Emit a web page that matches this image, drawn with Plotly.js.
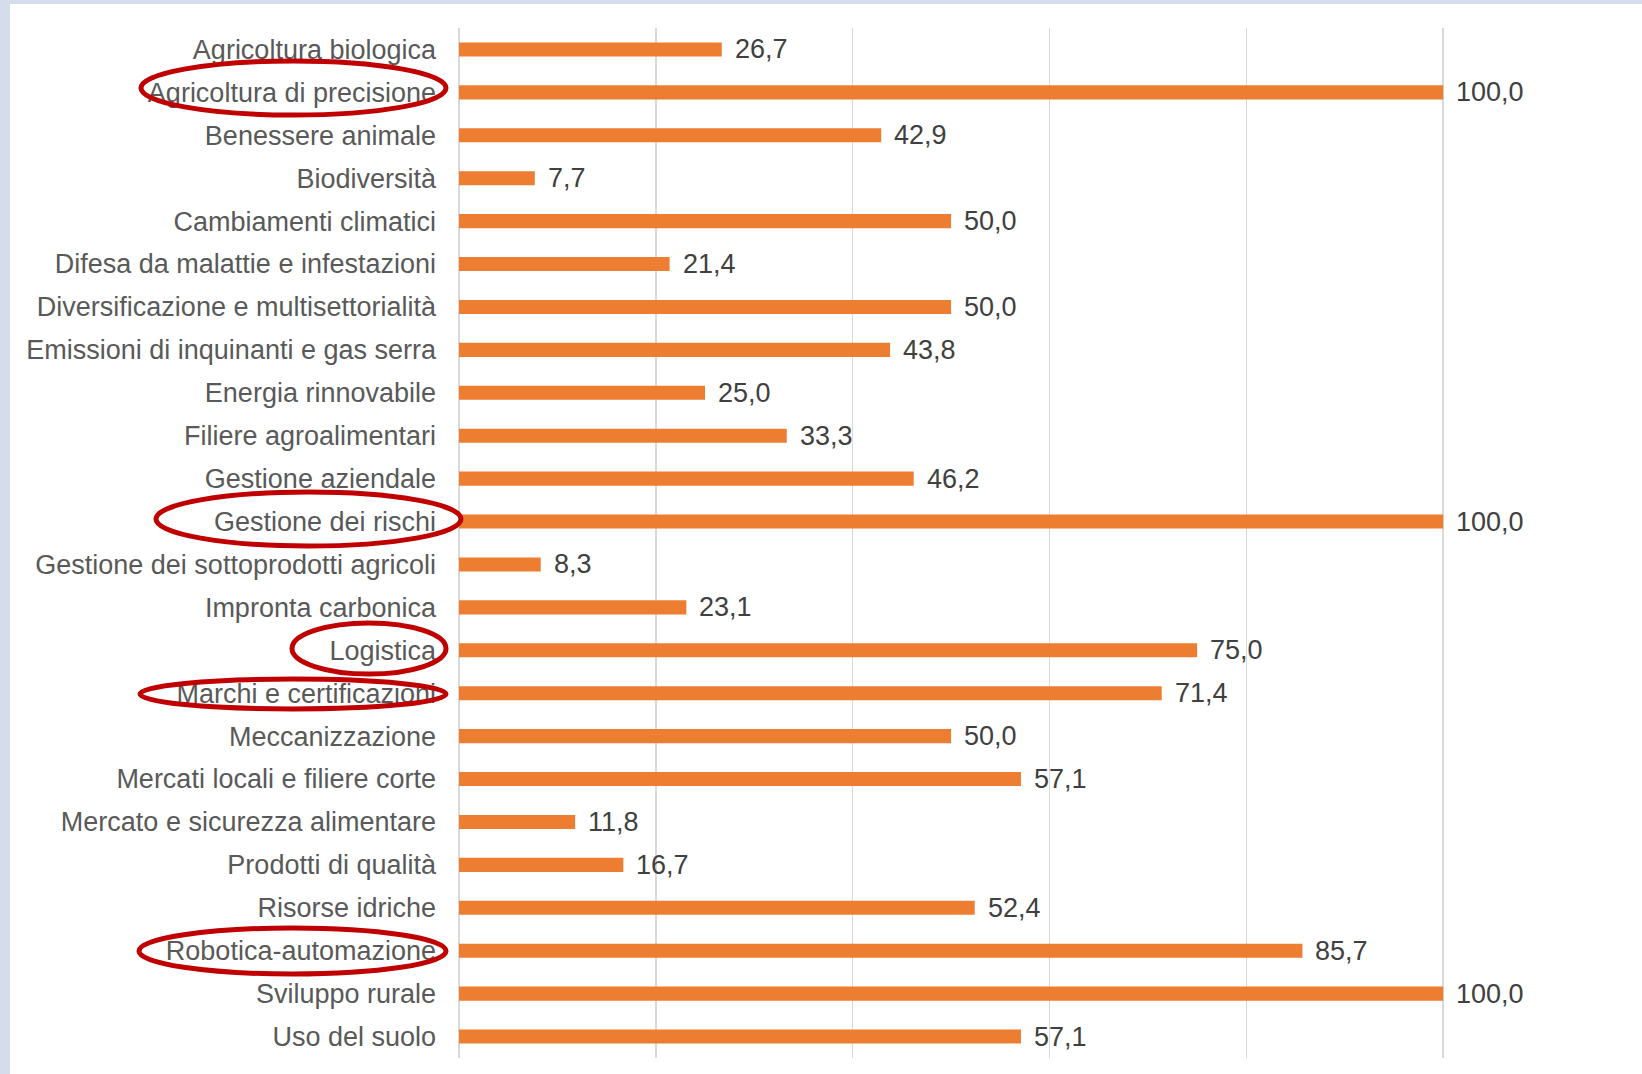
<!DOCTYPE html>
<html>
<head>
<meta charset="utf-8">
<script src="https://cdn.plot.ly/plotly-3.0.1.min.js"></script>
<style>html,body{margin:0;padding:0;background:#fff;}#chart{width:1642px;height:1074px;}</style>
</head>
<body>
<div id="chart"></div>
<script>
const categories = [
  "Agricoltura biologica",
  "Agricoltura di precisione",
  "Benessere animale",
  "Biodiversità",
  "Cambiamenti climatici",
  "Difesa da malattie e infestazioni",
  "Diversificazione e multisettorialità",
  "Emissioni di inquinanti e gas serra",
  "Energia rinnovabile",
  "Filiere agroalimentari",
  "Gestione aziendale",
  "Gestione dei rischi",
  "Gestione dei sottoprodotti agricoli",
  "Impronta carbonica",
  "Logistica",
  "Marchi e certificazioni",
  "Meccanizzazione",
  "Mercati locali e filiere corte",
  "Mercato e sicurezza alimentare",
  "Prodotti di qualità",
  "Risorse idriche",
  "Robotica-automazione",
  "Sviluppo rurale",
  "Uso del suolo"
];
const values = [26.7, 100.0, 42.9, 7.7, 50.0, 21.4, 50.0, 43.8, 25.0, 33.3, 46.2, 100.0, 8.3, 23.1, 75.0, 71.4, 50.0, 57.1, 11.8, 16.7, 52.4, 85.7, 100.0, 57.1];
const highlighted = ["Agricoltura di precisione", "Gestione dei rischi", "Logistica", "Marchi e certificazioni", "Robotica-automazione"];
const tickValues = [0, 20, 40, 60, 80, 100, 120];

// plot-area geometry (pixels)
const W = 1642, H = 1074;
const L = 459, R = 2, T = 28, B = 16;
const pw = W - L - R, ph = H - T - B;
const px = x => (x - L) / pw;
const py = y => (H - B - y) / ph;

// highlight ellipses (pixel boxes)
const ellipseBoxes = {
  "Agricoltura di precisione": [141, 61, 446, 115],
  "Gestione dei rischi": [156, 492, 461, 546],
  "Logistica": [292, 623, 446, 674],
  "Marchi e certificazioni": [140, 679, 446, 709],
  "Robotica-automazione": [139, 928, 446, 974]
};

const shapes = [
  {type: 'rect', xref: 'paper', yref: 'paper', x0: px(0), x1: px(10), y0: py(H), y1: py(0), fillcolor: '#d5dded', line: {width: 0}, layer: 'below'},
  {type: 'rect', xref: 'paper', yref: 'paper', x0: px(0), x1: px(W), y0: py(4), y1: py(0), fillcolor: '#d5dded', line: {width: 0}, layer: 'below'}
];
highlighted.forEach(c => {
  const b = ellipseBoxes[c];
  shapes.push({type: 'circle', xref: 'paper', yref: 'paper', x0: px(b[0]), x1: px(b[2]), y0: py(b[3]), y1: py(b[1]), line: {color: '#c00000', width: 5}, fillcolor: 'rgba(0,0,0,0)', layer: 'above'});
});

const annotations = categories.map((c, i) => ({
  x: values[i], y: c, xref: 'x', yref: 'y',
  text: values[i].toFixed(1).replace('.', ','),
  showarrow: false, xanchor: 'left', yanchor: 'middle', xshift: 11, yshift: 0,
  font: {family: 'Liberation Sans, Arial, sans-serif', size: 27, color: '#404040'}
}));

const trace = {
  type: 'bar', orientation: 'h',
  x: values, y: categories,
  marker: {color: '#ed7d31'},
  hoverinfo: 'none'
};

const layout = {
  width: W, height: H,
  margin: {l: L, r: R, t: T, b: B, pad: 0},
  paper_bgcolor: '#ffffff', plot_bgcolor: '#ffffff',
  separators: ',.',
  bargap: 0.67,
  showlegend: false,
  xaxis: {
    range: [0, 120], tickvals: tickValues, showticklabels: false,
    showgrid: true, gridcolor: '#d9d9d9', gridwidth: 1.5,
    zeroline: true, zerolinecolor: '#d9d9d9', zerolinewidth: 1.5,
    showline: false, fixedrange: true
  },
  yaxis: {
    type: 'category', autorange: 'reversed',
    ticks: '', ticklabelstandoff: 22,
    tickfont: {family: 'Liberation Sans, Arial, sans-serif', size: 27, color: '#595959'},
    showgrid: false, zeroline: false, showline: false, fixedrange: true
  },
  shapes: shapes,
  annotations: annotations
};

Plotly.newPlot('chart', [trace], layout, {displayModeBar: false, staticPlot: true});
</script>
</body>
</html>
